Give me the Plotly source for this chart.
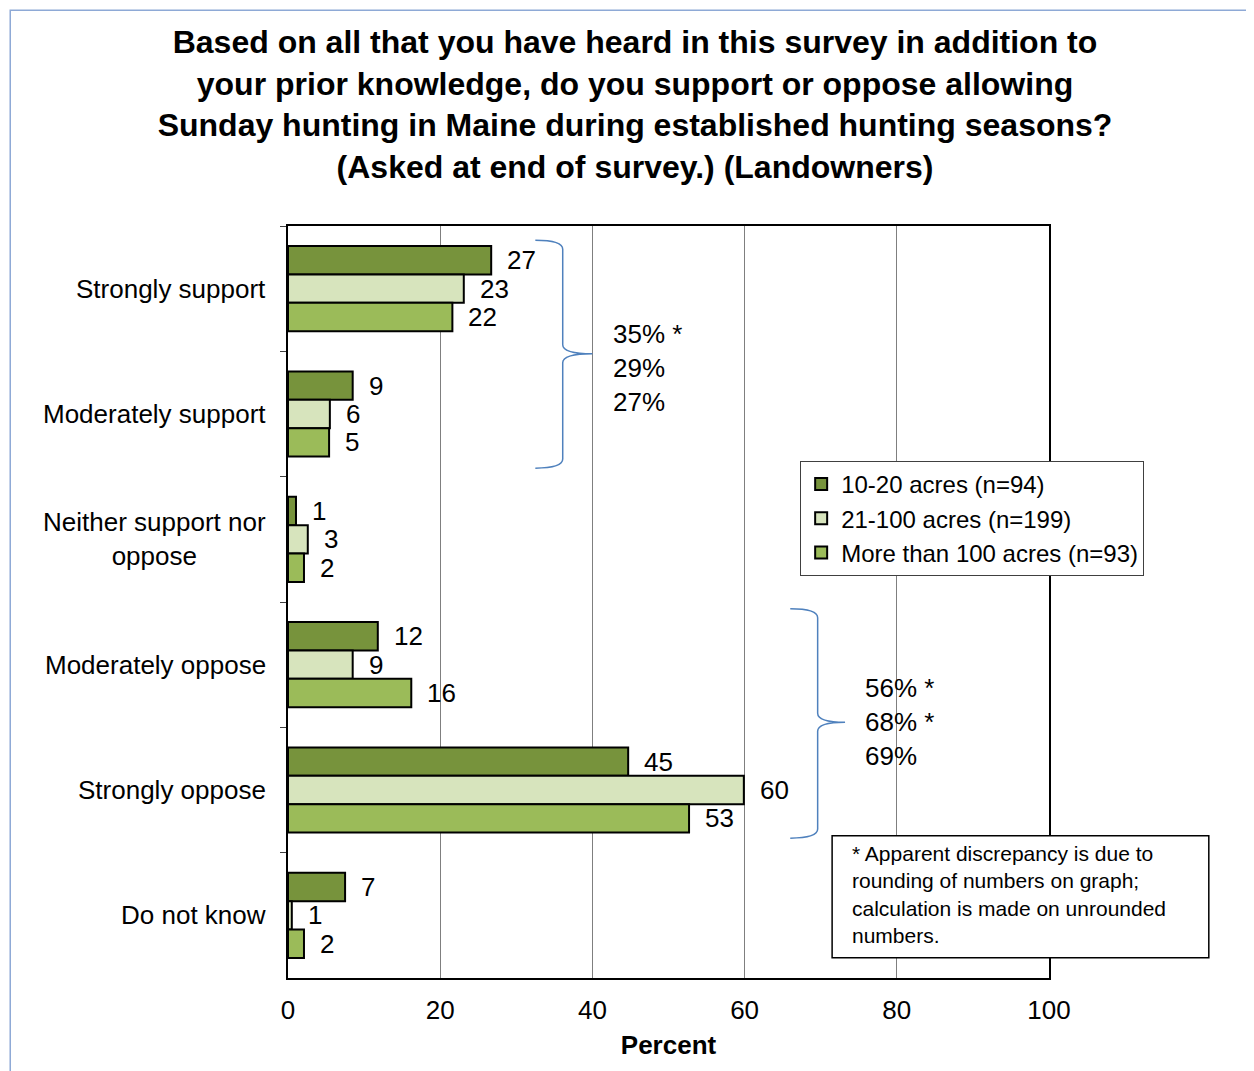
import plotly.graph_objects as go

categories = ['Strongly support', 'Moderately support', 'Neither support nor<br>oppose',
              'Moderately oppose', 'Strongly oppose', 'Do not know']
series_names = ['10-20 acres (n=94)', '21-100 acres (n=199)', 'More than 100 acres (n=93)']

# bar lengths (unrounded) and the rounded labels shown
acres_10_20 = [26.7, 8.5, 1.05, 11.8, 44.7, 7.5]
acres_21_100 = [23.1, 5.5, 2.6, 8.5, 59.9, 0.5]
acres_100_plus = [21.6, 5.4, 2.1, 16.2, 52.7, 2.1]
labels_10_20 = ['27', '9', '1', '12', '45', '7']
labels_21_100 = ['23', '6', '3', '9', '60', '1']
labels_100_plus = ['22', '5', '2', '16', '53', '2']

x_ticks = [0, 20, 40, 60, 80, 100]
support_totals = '35% *<br>29%<br>27%'
oppose_totals = '56% *<br>68% *<br>69%'
note_text = ('* Apparent discrepancy is due to<br>rounding of numbers on graph;<br>'
             'calculation is made on unrounded<br>numbers.')

colors = ['#77933C', '#D7E4BD', '#9BBB59']
FONT = 'Liberation Sans, Arial, sans-serif'
BRACE_BLUE = '#4F81BD'

W, H = 1254, 1071
# page body adds an 8px offset, so margins are shifted to compensate
margin = dict(l=280, r=213, t=218, b=101)
bargap = 0.32
plot_h = H - margin['t'] - margin['b']
bar_px = plot_h / len(categories) * (1 - bargap) / 3

fig = go.Figure()
all_values = [acres_10_20, acres_21_100, acres_100_plus]
all_labels = [labels_10_20, labels_21_100, labels_100_plus]
for name, vals, col in zip(series_names, all_values, colors):
    fig.add_trace(go.Bar(
        name=name, y=categories, x=vals, orientation='h',
        marker=dict(color=col, line=dict(color='black', width=2)),
    ))

annotations = []
# data labels, one per bar, just right of the bar end
for i, (vals, labs) in enumerate(zip(all_values, all_labels)):
    for cat, v, lab in zip(categories, vals, labs):
        annotations.append(dict(
            x=v, y=cat, xref='x', yref='y', text=lab, showarrow=False,
            xanchor='left', xshift=14, yshift=(1 - i) * bar_px,
            font=dict(size=26, color='black'),
        ))

# category labels
for cat in categories:
    annotations.append(dict(
        x=0, y=cat, xref='paper', yref='y', text=cat, showarrow=False,
        xanchor='right', xshift=-20, align='center',
        font=dict(size=26, color='black'),
    ))

# totals next to the braces
annotations.append(dict(x=42.5, y=0.811, xref='x', yref='paper', text=support_totals,
                        showarrow=False, xanchor='left', yanchor='middle', align='left',
                        font=dict(size=26, color='black')))
annotations.append(dict(x=75.5, y=0.34, xref='x', yref='paper', text=oppose_totals,
                        showarrow=False, xanchor='left', yanchor='middle', align='left',
                        font=dict(size=26, color='black')))

# footnote text (box drawn as a shape below)
annotations.append(dict(x=0.738, y=0.183, xref='paper', yref='paper', text=note_text,
                        showarrow=False, xanchor='left', yanchor='top', align='left',
                        font=dict(size=21, color='black')))


def brace(x_left, x_mid, x_tip, y_top, y_tip, y_bot):
    r = 0.012
    return (f'M {x_left},{y_top} Q {x_mid},{y_top} {x_mid},{y_top - r} '
            f'L {x_mid},{y_tip + r} Q {x_mid},{y_tip} {x_tip},{y_tip} '
            f'Q {x_mid},{y_tip} {x_mid},{y_tip - r} '
            f'L {x_mid},{y_bot + r} Q {x_mid},{y_bot} {x_left},{y_bot}')


shapes = [
    dict(type='path', xref='x', yref='paper', path=brace(32.5, 36.1, 40, 0.981, 0.830, 0.678),
         line=dict(color=BRACE_BLUE, width=1.5)),
    dict(type='path', xref='x', yref='paper', path=brace(66.0, 69.6, 73.2, 0.491, 0.340, 0.186),
         line=dict(color=BRACE_BLUE, width=1.5)),
    # footnote box
    dict(type='rect', xref='paper', yref='paper', x0=0.715, x1=1.210, y0=0.027, y1=0.189,
         line=dict(color='black', width=1.5), fillcolor='white', layer='above'),
    # outer chart frame
    dict(type='rect', xref='paper', yref='paper', x0=-0.365, x1=1.3, y0=-0.2, y1=1.287,
         line=dict(color='#8EA9D6', width=1.5), layer='below'),
]

fig.update_layout(
    width=W, height=H, margin=margin,
    paper_bgcolor='white', plot_bgcolor='white',
    font=dict(family=FONT, size=26, color='black'),
    title=dict(
        text=('<b>Based on all that you have heard in this survey in addition to<br>'
              'your prior knowledge, do you support or oppose allowing<br>'
              'Sunday hunting in Maine during established hunting seasons?<br>'
              '(Asked at end of survey.) (Landowners)</b>'),
        x=0.5, xref='container', xanchor='center',
        y=0.958, yref='container', yanchor='top',
        font=dict(size=32, family=FONT, color='black'),
    ),
    barmode='group', bargap=bargap, bargroupgap=0,
    xaxis=dict(
        range=[0, 100], tickvals=x_ticks, ticks='', ticklabelstandoff=8,
        showgrid=True, gridcolor='#7f7f7f', gridwidth=1,
        showline=True, linecolor='black', linewidth=2, mirror=True,
        tickfont=dict(size=26), zeroline=False,
        title=dict(text='<b>Percent</b>', font=dict(size=26), standoff=12),
    ),
    yaxis=dict(
        autorange='reversed', showticklabels=False, tickson='boundaries',
        ticks='outside', ticklen=6, tickcolor='#404040',
        showline=True, linecolor='black', linewidth=2, mirror=True, showgrid=False,
    ),
    legend=dict(
        x=0.673, y=0.6875, xanchor='left', yanchor='top',
        bgcolor='white', bordercolor='#404040', borderwidth=1,
        font=dict(size=24), traceorder='normal',
    ),
    annotations=annotations, shapes=shapes,
)

fig.write_html('out.html')
